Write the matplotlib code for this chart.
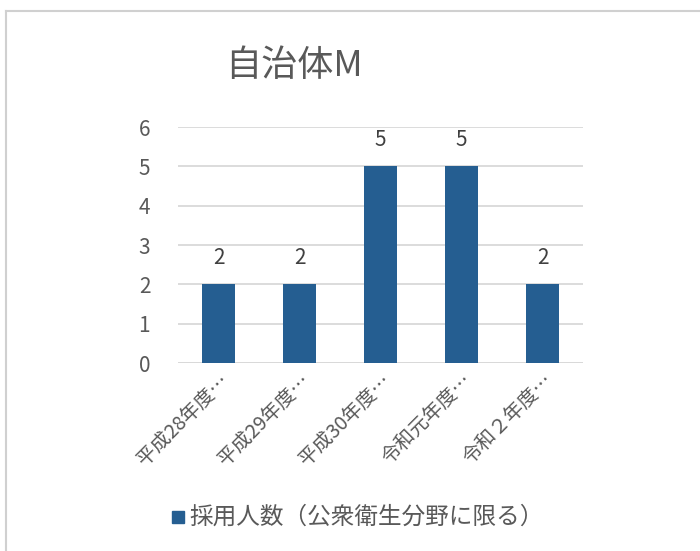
import matplotlib
matplotlib.use("Agg")
import matplotlib.pyplot as plt
from matplotlib.lines import Line2D
from matplotlib.patches import Rectangle

plt.rcParams['font.family'] = ['Noto Sans CJK JP', 'DejaVu Sans']

title = "自治体M"
categories = ["平成28年度…", "平成29年度…", "平成30年度…", "令和元年度…", "令和２年度…"]
values = [2, 2, 5, 5, 2]
series_name = "採用人数（公衆衛生分野に限る）"
yticks = [0, 1, 2, 3, 4, 5, 6]

bar_color = "#255E91"
tick_color = "#595959"
label_color = "#404040"
grid_color = "#D9D9D9"

fig = plt.figure(figsize=(7.0, 5.51), dpi=100)
W, H = 700, 551

# outer chart border (partly outside the canvas)
fig.add_artist(Line2D([6 / W, 6 / W], [0, 1 - 11 / H], transform=fig.transFigure,
                      color="#D0D0D0", lw=1.5))
fig.add_artist(Line2D([6 / W, 1], [1 - 11 / H, 1 - 11 / H], transform=fig.transFigure,
                      color="#D0D0D0", lw=1.5))

ax = fig.add_axes([178 / W, 1 - 363 / H, (583 - 178) / W, (363 - 127) / H])
x = list(range(len(categories)))
bars = ax.bar(x, values, width=0.4, color=bar_color, zorder=3)

ax.set_xlim(-0.5, len(categories) - 0.5)
ax.set_ylim(0, 6)
ax.set_yticks(yticks)
ax.set_yticklabels([str(v) for v in yticks])
ax.yaxis.grid(True, color=grid_color, lw=1.3, zorder=0)
for s in ax.spines.values():
    s.set_visible(False)
ax.axhline(0, color=grid_color, lw=1.3, zorder=1)
ax.tick_params(axis='y', length=0, pad=20, labelsize=15, labelcolor=tick_color)
ax.tick_params(axis='x', length=0, pad=5, labelsize=14.2, labelcolor=tick_color)
ax.set_xticks(x)
ax.set_xticklabels(categories, rotation=45, ha='right', rotation_mode='anchor')

for xi, v in zip(x, values):
    ax.annotate(str(v), (xi, v), xytext=(0, 11), textcoords='offset points',
                ha='center', va='bottom', fontsize=15, color=label_color)

fig.text(294 / W, 1 - 66 / H, title, ha='center', va='center',
         fontsize=26, color=tick_color)

# legend
fig.add_artist(Rectangle((172 / W, 1 - 523 / H), 12 / W, 12 / H,
                         transform=fig.transFigure, color=bar_color))
fig.text(189 / W, 1 - 517 / H, series_name, ha='left', va='center',
         fontsize=17, color=tick_color)

fig.savefig("out.png", dpi=100, facecolor="white")
